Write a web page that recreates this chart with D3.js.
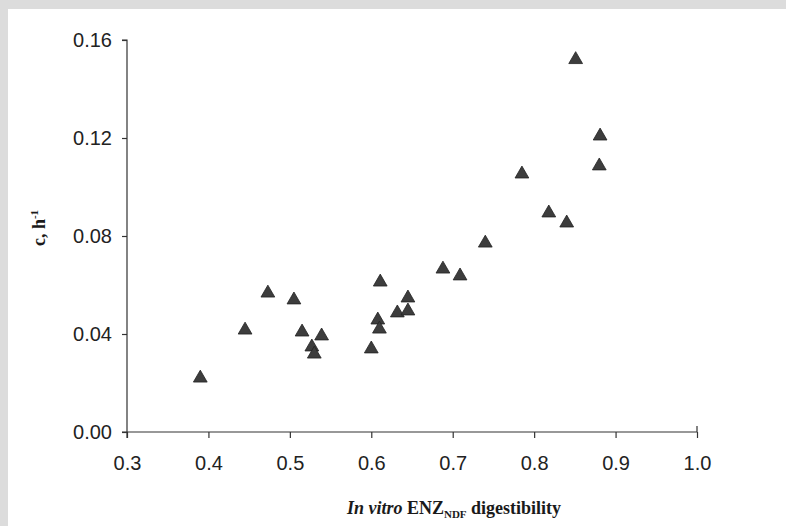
<!DOCTYPE html>
<html>
<head>
<meta charset="utf-8">
<script src="https://cdn.jsdelivr.net/npm/d3@7"></script>
<style>
  html, body { margin: 0; padding: 0; background: #dcdcdc; }
  #chart { width: 786px; height: 526px; }
</style>
</head>
<body>
<div id="chart"></div>
<script>
// datos
var digestibility = [0.390, 0.445, 0.473, 0.505, 0.515, 0.527, 0.530, 0.539, 0.600, 0.608,
                     0.610, 0.611, 0.632, 0.645, 0.645, 0.688, 0.709, 0.740, 0.785, 0.818,
                     0.840, 0.851, 0.881, 0.880];
var rateC = [0.022, 0.0416, 0.0567, 0.0539, 0.0408, 0.0347, 0.0318, 0.0392, 0.0339, 0.0457,
             0.0420, 0.0612, 0.0486, 0.0547, 0.0494, 0.0665, 0.0637, 0.0771, 0.1053, 0.0894,
             0.0853, 0.1520, 0.1208, 0.1086];
var xTicks = [0.3, 0.4, 0.5, 0.6, 0.7, 0.8, 0.9, 1.0];
var yTicks = [0.00, 0.04, 0.08, 0.12, 0.16];

var W = 786, H = 526;
var margin = {top: 40, right: 89, bottom: 94, left: 127};
var width = W - margin.left - margin.right;
var height = H - margin.top - margin.bottom;

var svg = d3.select("#chart").append("svg")
    .attr("width", W)
    .attr("height", H);

// fondo blanco con borde gris arriba e izquierda
svg.append("rect")
    .attr("x", 8).attr("y", 9)
    .attr("width", W - 8).attr("height", H - 9)
    .attr("fill", "#ffffff");

var g = svg.append("g")
    .attr("transform", "translate(" + margin.left + "," + margin.top + ")");

var x = d3.scaleLinear().domain([0.3, 1.0]).range([0, width]);
var y = d3.scaleLinear().domain([0, 0.16]).range([height, 0]);

// eje X
var xAxis = g.append("g")
    .attr("transform", "translate(0," + height + ")")
    .call(d3.axisBottom(x).tickValues(xTicks).tickSize(6).tickSizeOuter(6)
        .tickFormat(d3.format(".1f")).tickPadding(18));

// eje Y
var yAxis = g.append("g")
    .call(d3.axisLeft(y).tickValues(yTicks).tickSize(5).tickSizeOuter(5)
        .tickFormat(d3.format(".2f")).tickPadding(10));

[xAxis, yAxis].forEach(function(a) {
    a.selectAll("path, line").attr("stroke", "#333").attr("stroke-width", 1.2);
    a.selectAll("text")
        .attr("fill", "#222")
        .style("font-family", "Liberation Sans, Arial, sans-serif")
        .style("font-size", "20px");
});
xAxis.select(".domain").attr("d", "M-5,0H" + width + "V-6");
yAxis.select(".domain").attr("d", "M-5,0H0V" + (height + 6));

// puntos
var data = digestibility.map(function(d, i) { return {x: d, y: rateC[i]}; });
g.selectAll("path.pt")
    .data(data)
    .enter().append("path")
    .attr("class", "pt")
    .attr("d", d3.symbol().type(d3.symbolTriangle).size(82))
    .attr("transform", function(d) { return "translate(" + x(d.x) + "," + y(d.y) + ")"; })
    .attr("fill", "#3d3d3d")
    .attr("stroke", "#222")
    .attr("stroke-width", 0.8);

// titulo eje X
var xt = svg.append("text")
    .attr("x", 454)
    .attr("y", 514)
    .attr("text-anchor", "middle")
    .style("font-family", "Liberation Serif, Times New Roman, serif")
    .style("font-weight", "bold")
    .style("font-size", "18px")
    .attr("fill", "#1a1a1a");
xt.append("tspan").style("font-style", "italic").text("In vitro");
xt.append("tspan").text(" ENZ");
xt.append("tspan").attr("dy", 4).style("font-size", "11px").text("NDF");
xt.append("tspan").attr("dy", -4).text(" digestibility");

// titulo eje Y
var yt = svg.append("text")
    .attr("transform", "translate(45,228) rotate(-90)")
    .attr("text-anchor", "middle")
    .style("font-family", "Liberation Serif, Times New Roman, serif")
    .style("font-weight", "bold")
    .style("font-size", "18px")
    .attr("fill", "#1a1a1a");
yt.append("tspan").text("c, h");
yt.append("tspan").attr("dy", -7).style("font-size", "11px").text("-1");
</script>
</body>
</html>
